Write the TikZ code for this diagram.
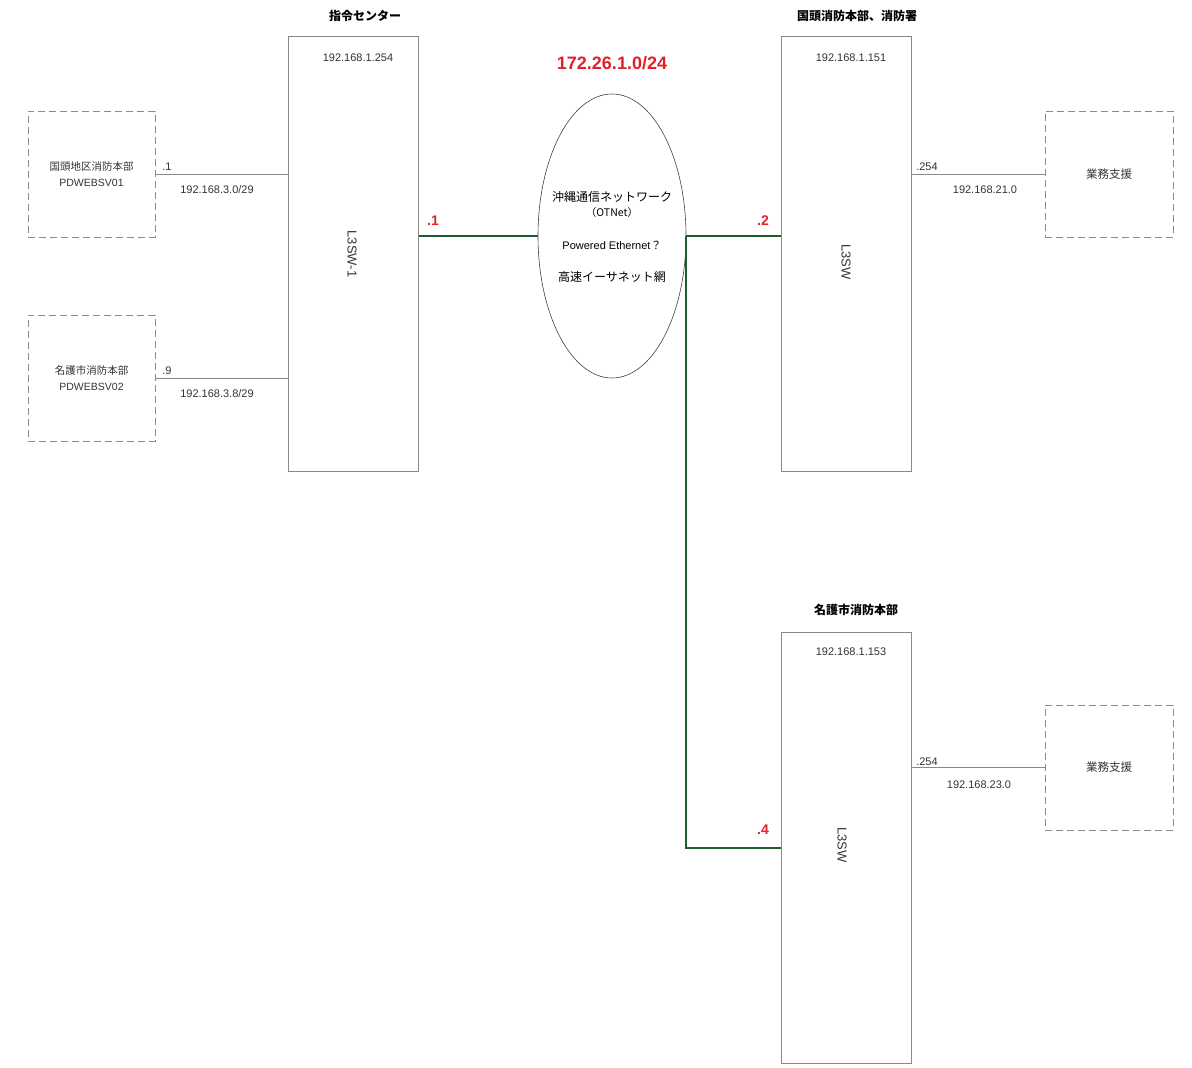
\documentclass[tikz,border=0pt]{standalone}
\usepackage{fontspec}
\setmainfont{Noto Sans CJK JP}
\newfontfamily\lat{Liberation Sans}
\usetikzlibrary{shapes.geometric}
\definecolor{boxgray}{HTML}{8A8A8A}
\definecolor{netgreen}{HTML}{1E5E30}
\definecolor{addrred}{HTML}{E0202A}
\tikzset{
  swbox/.style={draw=boxgray, line width=0.9pt, minimum width=130pt, inner sep=0pt},
  dbox/.style={draw=boxgray, dash pattern=on 7pt off 4pt, line width=1pt, minimum width=127pt, minimum height=126pt, inner sep=0pt, align=center, font=\fontsize{10.5}{16}\selectfont, text=black!80},
  title/.style={font=\fontsize{12}{14}\selectfont\bfseries},
  ip/.style={font=\lat\fontsize{11}{13}\selectfont, text=black!80},
  lbl/.style={font=\lat\fontsize{11}{13}\selectfont, text=black!80},
  swlbl/.style={font=\lat\fontsize{13}{15}\selectfont, text=black!80},
  red/.style={font=\lat\fontsize{14}{15}\selectfont\bfseries, text=addrred},
  thin/.style={draw=boxgray, line width=0.8pt},
  green/.style={draw=netgreen, line width=2pt}
}
\begin{document}
\begin{tikzpicture}[x=1pt,y=-1pt]
\useasboundingbox (0,0) rectangle (1192,1068);
% switches
\node[swbox, minimum height=435pt, anchor=north west] (sw1) at (288,36) {};
\node[swbox, minimum height=435pt, anchor=north west] (sw2) at (781,36) {};
\node[swbox, minimum height=431pt, anchor=north west] (sw3) at (781,632) {};
\node[title] (t1) at (365,16) {指令センター};
\node[title] (t2) at (857,16) {国頭消防本部、消防署};
\node[title] (t3) at (856,610) {名護市消防本部};
\node[ip] (ip1) at (358,58) {192.168.1.254};
\node[ip] (ip2) at (851,58) {192.168.1.151};
\node[ip] (ip3) at (851,652) {192.168.1.153};
\node[swlbl, rotate=-90] (l1) at (352,254) {L3SW-1};
\node[swlbl, rotate=-90] (l2) at (846,262) {L3SW};
\node[swlbl, rotate=-90] (l3) at (842,845) {L3SW};
% dashed servers
\node[dbox] (d1) at (91.5,174) {国頭地区消防本部\\{\lat\fontsize{10.5}{12}\selectfont PDWEBSV01}};
\node[dbox] (d2) at (91.5,378) {名護市消防本部\\{\lat\fontsize{10.5}{12}\selectfont PDWEBSV02}};
\node[dbox, minimum width=128pt, font=\fontsize{11.5}{13}\selectfont] (d3) at (1109,174) {業務支援};
\node[dbox, minimum width=128pt, minimum height=125pt, font=\fontsize{11.5}{13}\selectfont] (d4) at (1109,767.5) {業務支援};
% thin links
\draw[thin] (d1.east) -- (d1.east -| sw1.west);
\draw[thin] (d2.east) -- (d2.east -| sw1.west);
\draw[thin] (d3.west -| sw2.east) -- (d3.west);
\draw[thin] (d4.west -| sw3.east) -- (d4.west);
\node[lbl] (a1) at (167,167) {.1};
\node[lbl] (a2) at (167,371) {.9};
\node[lbl] (n1) at (217,190) {192.168.3.0/29};
\node[lbl] (n2) at (217,394) {192.168.3.8/29};
\node[lbl] (a3) at (927,167) {.254};
\node[lbl] (a4) at (927,762) {.254};
\node[lbl] (n3) at (985,190) {192.168.21.0};
\node[lbl] (n4) at (979,785) {192.168.23.0};
% network cloud
\node[ellipse, draw=black!75, line width=0.6pt, minimum width=148pt, minimum height=284pt, inner sep=0pt] (ell) at (612,236) {};
\node[red, font=\lat\fontsize{18}{20}\selectfont\bfseries] (net) at (612,63) {172.26.1.0/24};
\node[font=\fontsize{12}{14}\selectfont] (e1) at (612,197) {沖縄通信ネットワーク};
\node[font=\fontsize{10.5}{12}\selectfont] (e2) at (612,213) {（OTNet）};
\node[font=\lat\fontsize{11}{13}\selectfont] (e3) at (612,245) {Powered Ethernet{\fontspec{Noto Sans CJK JP}？}};
\node[font=\fontsize{12}{14}\selectfont] (e4) at (612,277) {高速イーサネット網};
% green links
\draw[green] (ell.west -| sw1.east) -- (ell.west);
\draw[green] (ell.east) -- (ell.east -| sw2.west);
\draw[green] (ell.east) -- (ell.east |- sw3.west) -- (sw3.west);
\node[red] (r1) at (433,221) {.1};
\node[red] (r2) at (763,221) {.2};
\node[red] (r4) at (763,830) {.4};
\end{tikzpicture}
\end{document}
